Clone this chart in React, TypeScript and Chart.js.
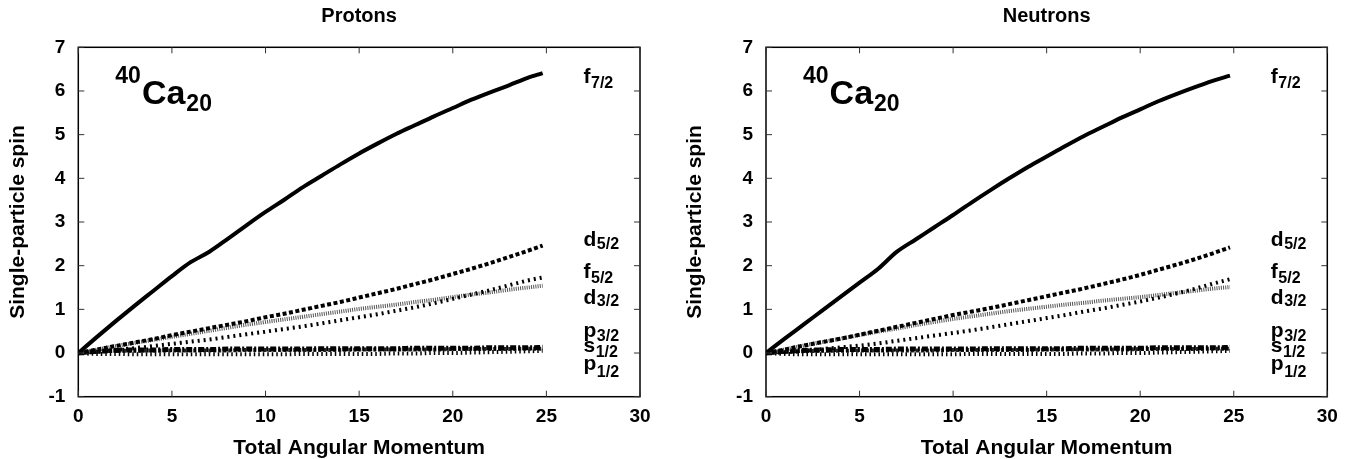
import React, { useEffect, useRef } from "react";
import { Chart, registerables } from "chart.js";

Chart.register(...registerables);

// ---- data ----
const momentum = [0, 1, 2, 3, 4, 5, 6, 7, 8, 9, 10, 11, 12, 13, 14, 15, 16, 17, 18, 19, 20, 21, 22, 23, 24, 24.8];
const xTickValues = [0, 5, 10, 15, 20, 25, 30];
const yTickValues = [-1, 0, 1, 2, 3, 4, 5, 6, 7];

// Protons
const protonF72 = [0, 0.37, 0.73, 1.08, 1.42, 1.76, 2.08, 2.32, 2.62, 2.93, 3.23, 3.51, 3.8, 4.06, 4.32, 4.57, 4.8, 5.02, 5.22, 5.42, 5.61, 5.8, 5.97, 6.13, 6.3, 6.41];
const protonD52 = [0, 0.08, 0.16, 0.24, 0.32, 0.41, 0.49, 0.57, 0.65, 0.73, 0.82, 0.9, 0.99, 1.08, 1.17, 1.27, 1.37, 1.47, 1.58, 1.69, 1.81, 1.93, 2.06, 2.2, 2.34, 2.46];
const protonF52 = [0, 0.03, 0.07, 0.11, 0.16, 0.21, 0.26, 0.31, 0.37, 0.43, 0.49, 0.55, 0.61, 0.68, 0.75, 0.82, 0.89, 0.97, 1.05, 1.14, 1.24, 1.34, 1.44, 1.55, 1.66, 1.73];
const protonD32 = [0, 0.08, 0.16, 0.23, 0.3, 0.37, 0.44, 0.51, 0.58, 0.65, 0.71, 0.77, 0.83, 0.89, 0.95, 1.01, 1.06, 1.11, 1.17, 1.22, 1.28, 1.34, 1.39, 1.45, 1.5, 1.54];
const protonP32 = [0, 0.04, 0.06, 0.07, 0.07, 0.08, 0.08, 0.08, 0.09, 0.09, 0.09, 0.09, 0.09, 0.1, 0.1, 0.1, 0.1, 0.1, 0.11, 0.11, 0.11, 0.11, 0.12, 0.12, 0.12, 0.13];
const protonS12 = [0, 0.03, 0.05, 0.05, 0.06, 0.06, 0.06, 0.06, 0.06, 0.07, 0.07, 0.07, 0.07, 0.07, 0.07, 0.08, 0.08, 0.08, 0.08, 0.08, 0.09, 0.09, 0.09, 0.09, 0.1, 0.1];
const protonP12 = [0, -0.02, -0.02, -0.03, -0.03, -0.03, -0.03, -0.03, -0.03, -0.03, -0.03, -0.03, -0.02, -0.02, -0.02, -0.02, -0.02, -0.01, -0.01, 0, 0, 0.01, 0.02, 0.03, 0.04, 0.05];

// Neutrons
const neutronF72 = [0, 0.33, 0.65, 0.97, 1.29, 1.61, 1.93, 2.32, 2.6, 2.88, 3.16, 3.45, 3.73, 4.0, 4.26, 4.5, 4.74, 4.97, 5.18, 5.39, 5.58, 5.77, 5.94, 6.1, 6.25, 6.35];
const neutronD52 = [0, 0.08, 0.17, 0.25, 0.33, 0.42, 0.51, 0.6, 0.69, 0.78, 0.87, 0.95, 1.03, 1.12, 1.21, 1.3, 1.39, 1.48, 1.58, 1.68, 1.79, 1.91, 2.03, 2.16, 2.3, 2.42];
const neutronF52 = [0, 0.02, 0.05, 0.09, 0.13, 0.17, 0.22, 0.28, 0.34, 0.4, 0.46, 0.52, 0.59, 0.66, 0.73, 0.8, 0.87, 0.95, 1.02, 1.1, 1.18, 1.27, 1.37, 1.48, 1.6, 1.69];
const neutronD32 = [0, 0.08, 0.17, 0.25, 0.33, 0.41, 0.49, 0.56, 0.64, 0.71, 0.78, 0.84, 0.9, 0.96, 1.01, 1.06, 1.11, 1.15, 1.2, 1.24, 1.28, 1.33, 1.38, 1.43, 1.48, 1.51];
const neutronP32 = [0, 0.04, 0.06, 0.07, 0.08, 0.08, 0.08, 0.09, 0.09, 0.09, 0.09, 0.09, 0.1, 0.1, 0.1, 0.1, 0.1, 0.11, 0.11, 0.11, 0.11, 0.12, 0.12, 0.12, 0.12, 0.13];
const neutronS12 = [0, 0.03, 0.04, 0.05, 0.05, 0.06, 0.06, 0.06, 0.06, 0.06, 0.07, 0.07, 0.07, 0.07, 0.07, 0.08, 0.08, 0.08, 0.08, 0.08, 0.09, 0.09, 0.09, 0.09, 0.1, 0.1];
const neutronP12 = [0, -0.02, -0.03, -0.03, -0.03, -0.03, -0.03, -0.03, -0.03, -0.03, -0.03, -0.02, -0.02, -0.02, -0.02, -0.02, -0.02, -0.01, -0.01, 0, 0, 0.01, 0.02, 0.03, 0.04, 0.05];

const levelNames = ["f", "d", "f", "d", "p", "s", "p"];
const levelSubs = ["7/2", "5/2", "5/2", "3/2", "3/2", "1/2", "1/2"];
// label anchors in data units (main baseline, subscript baseline)
const levelMainY = [6.19, 2.46, 1.72, 1.13, 0.37, 0.03, -0.4];
const levelSubY = [6.06, 2.39, 1.61, 1.07, 0.28, -0.1, -0.54];

const FONT = "'Liberation Sans', Arial, Helvetica, sans-serif";

type Style = { width: number; dash: number[]; color: string };
const seriesStyles: Style[] = [
  { width: 4, dash: [], color: "#000" },
  { width: 4, dash: [4, 2.5], color: "#000" },
  { width: 4, dash: [2, 4], color: "#000" },
  { width: 4, dash: [1, 1.2], color: "#555" },
  { width: 5, dash: [6, 2, 2, 2], color: "#000" },
  { width: 4, dash: [3, 2], color: "#222" },
  { width: 4, dash: [1.5, 3], color: "#000" },
];

const framePlugin = {
  id: "frame",
  afterDraw(chart: any) {
    const { ctx, chartArea: a, scales } = chart;
    ctx.save();
    ctx.strokeStyle = "#000";
    ctx.lineWidth = 1.5;
    ctx.strokeRect(a.left, a.top, a.right - a.left, a.bottom - a.top);
    ctx.lineWidth = 1;
    ctx.strokeStyle = "#333";
    const tl = 6;
    ctx.beginPath();
    for (const v of xTickValues) {
      const px = scales.x.getPixelForValue(v);
      ctx.moveTo(px, a.bottom);
      ctx.lineTo(px, a.bottom - tl);
      ctx.moveTo(px, a.top);
      ctx.lineTo(px, a.top + tl);
    }
    for (const v of yTickValues) {
      const py = scales.y.getPixelForValue(v);
      ctx.moveTo(a.left, py);
      ctx.lineTo(a.left + tl, py);
      ctx.moveTo(a.right, py);
      ctx.lineTo(a.right - tl, py);
    }
    ctx.stroke();

    ctx.fillStyle = "#000";
    ctx.textBaseline = "alphabetic";
    ctx.textAlign = "left";
    // nucleus label
    let x = a.left + 37;
    ctx.font = `bold 23px ${FONT}`;
    ctx.fillText("40", x, 83);
    x += ctx.measureText("40").width + 1;
    ctx.font = `bold 34px ${FONT}`;
    ctx.fillText("Ca", x, 104);
    x += ctx.measureText("Ca").width + 1;
    ctx.font = `bold 23px ${FONT}`;
    ctx.fillText("20", x, 111);

    // level labels
    for (let i = 0; i < levelNames.length; i++) {
      const lx = a.right - 56.5;
      ctx.font = `bold 21px ${FONT}`;
      ctx.fillText(levelNames[i], lx, scales.y.getPixelForValue(levelMainY[i]));
      const w = ctx.measureText(levelNames[i]).width;
      ctx.font = `bold 16px ${FONT}`;
      ctx.fillText(levelSubs[i], lx + w + 0.5, scales.y.getPixelForValue(levelSubY[i]));
    }
    ctx.restore();
  },
};

function makeConfig(title: string, series: number[][], yWidth: number, padRight: number) {
  return {
    type: "line" as const,
    data: {
      datasets: series.map((vals, i) => ({
        label: levelNames[i] + levelSubs[i],
        data: momentum.map((m, k) => ({ x: m, y: vals[k] })),
        borderColor: seriesStyles[i].color,
        borderWidth: seriesStyles[i].width,
        borderDash: seriesStyles[i].dash,
        borderCapStyle: "butt",
        pointRadius: 0,
        fill: false,
        cubicInterpolationMode: "monotone",
      })),
    },
    options: {
      animation: false,
      responsive: false,
      devicePixelRatio: 1,
      layout: { padding: { left: 0, right: padRight, top: 0, bottom: 0 } },
      plugins: {
        legend: { display: false },
        tooltip: { enabled: false },
        title: {
          display: true,
          text: title,
          fullSize: false,
          color: "#000",
          font: { family: FONT, size: 20, weight: "bold" },
          padding: { top: 4, bottom: 19.3 },
        },
      },
      scales: {
        x: {
          type: "linear",
          min: 0,
          max: 30,
          ticks: {
            stepSize: 5,
            color: "#000",
            font: { family: FONT, size: 19, weight: "bold" },
            padding: 9,
            maxRotation: 0,
          },
          grid: { display: false, drawTicks: false },
          border: { display: false },
          title: {
            display: true,
            text: "Total Angular Momentum",
            color: "#000",
            font: { family: FONT, size: 21, weight: "bold", lineHeight: 1 },
            padding: { top: 0, bottom: 0 },
          },
          afterFit: (s: any) => {
            s.height = 62.3;
          },
        },
        y: {
          type: "linear",
          min: -1,
          max: 7,
          ticks: {
            stepSize: 1,
            color: "#000",
            font: { family: FONT, size: 19, weight: "bold" },
            padding: 13,
          },
          grid: { display: false, drawTicks: false },
          border: { display: false },
          title: {
            display: true,
            text: "Single-particle spin",
            color: "#000",
            font: { family: FONT, size: 21, weight: "bold" },
            padding: { top: 5.7, bottom: 0 },
          },
          afterFit: (s: any) => {
            s.width = yWidth;
          },
        },
      },
    },
    plugins: [framePlugin],
  };
}

function Panel(props: { title: string; series: number[][]; yWidth: number; padRight: number; left: number }) {
  const ref = useRef<HTMLCanvasElement>(null);
  useEffect(() => {
    if (!ref.current) return;
    const chart = new Chart(ref.current, makeConfig(props.title, props.series, props.yWidth, props.padRight) as any);
    return () => chart.destroy();
  }, []);
  return (
    <div style={{ position: "absolute", left: props.left, top: 0, width: 677, height: 459 }}>
      <canvas ref={ref} width={677} height={459} style={{ width: 677, height: 459, display: "block" }} />
    </div>
  );
}

export default function App() {
  const protons = [protonF72, protonD52, protonF52, protonD32, protonP32, protonS12, protonP12];
  const neutrons = [neutronF72, neutronD52, neutronF52, neutronD32, neutronP32, neutronS12, neutronP12];
  return (
    <div style={{ position: "fixed", left: 0, top: 0, width: 1354, height: 459, background: "#fff" }}>
      <Panel title="Protons" series={protons} yWidth={78.3} padRight={37} left={0} />
      <Panel title="Neutrons" series={neutrons} yWidth={89} padRight={26.7} left={677} />
    </div>
  );
}
